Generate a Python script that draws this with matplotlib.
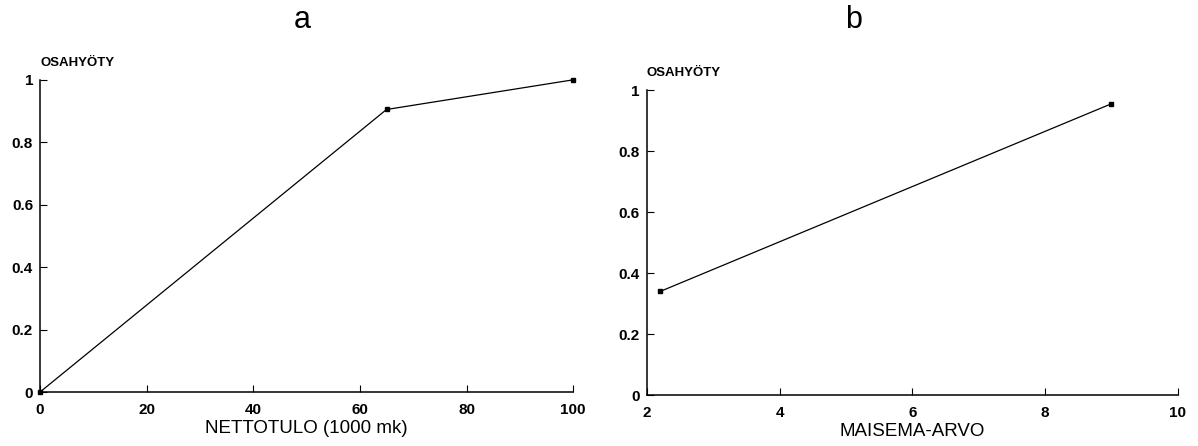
import matplotlib
matplotlib.use("Agg")
import matplotlib.pyplot as plt

plt.rcParams['font.family'] = ['Liberation Sans', 'DejaVu Sans']

# Panel a
a_x = [0, 65, 100]
a_y = [0, 0.905, 1.0]
a_xticks = [0, 20, 40, 60, 80, 100]
# Panel b
b_x = [2.2, 9.0]
b_y = [0.34, 0.955]
b_xticks = [2, 4, 6, 8, 10]
yticks = [0, 0.2, 0.4, 0.6, 0.8, 1.0]
ytick_labels = ['0', '0.2', '0.4', '0.6', '0.8', '1']

fig = plt.figure(figsize=(11.98, 4.46), dpi=100)

def style(ax, xticks, xlim, xlabel):
    ax.set_xlim(*xlim)
    ax.set_ylim(0, 1)
    for s in ['top', 'right']:
        ax.spines[s].set_visible(False)
    for s in ['left', 'bottom']:
        ax.spines[s].set_linewidth(1.1)
    ax.set_xticks(xticks)
    ax.set_xticklabels([str(t) for t in xticks], fontsize=11, fontweight='bold')
    ax.set_yticks(yticks)
    ax.set_yticklabels(ytick_labels, fontsize=11, fontweight='bold')
    ax.tick_params(direction='in', length=5, width=0.8)
    ax.tick_params(axis='x', pad=8)
    ax.tick_params(axis='y', pad=5)
    ax.set_xlabel(xlabel, fontsize=13.5, labelpad=2)
    ax.text(0.0, 1.035, 'OSAHYÖTY', transform=ax.transAxes, fontsize=9.5,
            fontweight='bold', ha='left', va='bottom')

ax1 = fig.add_axes([0.0334, 0.121, 0.445, 0.70])
ax1.plot(a_x, a_y, color='black', lw=0.9, marker='s', markersize=2.2, clip_on=False)
style(ax1, a_xticks, (0, 100), 'NETTOTULO (1000 mk)')

ax2 = fig.add_axes([0.540, 0.114, 0.443, 0.684])
ax2.plot(b_x, b_y, color='black', lw=0.9, marker='s', markersize=2.2, clip_on=False)
style(ax2, b_xticks, (2, 10), 'MAISEMA-ARVO')

fig.text(302 / 1198, 1 - 20 / 446, 'a', fontsize=22, ha='center', va='center')
fig.text(854 / 1198, 1 - 20 / 446, 'b', fontsize=22, ha='center', va='center')

fig.savefig('out.png', dpi=100)
